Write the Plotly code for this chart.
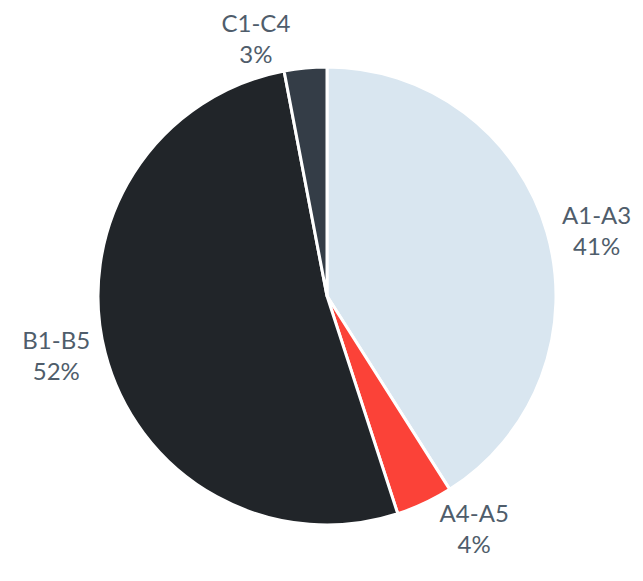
import plotly.graph_objects as go

labels = ["A1-A3", "A4-A5", "B1-B5", "C1-C4"]
values = [41, 4, 52, 3]
colors = ["#d9e6f0", "#fb4238", "#212529", "#343d47"]

W, H = 643, 581
cx, cy, r = 327, 296, 229

fig = go.Figure(go.Pie(
    labels=labels,
    values=values,
    sort=False,
    direction="clockwise",
    rotation=0,
    marker=dict(colors=colors, line=dict(color="white", width=3)),
    textposition="outside",
    texttemplate="%{label}<br>%{value}%",
    textfont=dict(family="Lato, Open Sans, sans-serif", size=24, color="#4f5d6b"),
    domain=dict(x=[(cx - r) / W, (cx + r) / W], y=[(H - cy - r) / H, (H - cy + r) / H]),
    showlegend=False,
    hoverinfo="label+percent",
))
fig.update_layout(
    width=W, height=H,
    margin=dict(l=0, r=0, t=0, b=0),
    paper_bgcolor="white",
    plot_bgcolor="white",
)
fig.update_traces(automargin=False)
fig.write_html("out.html")
